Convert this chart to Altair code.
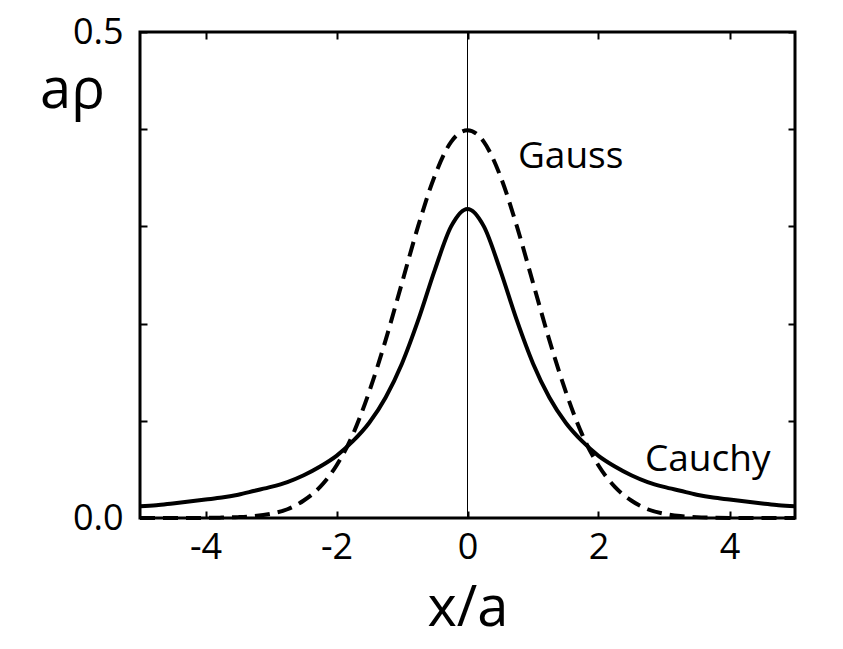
import altair as alt
import pandas as pd

# x/a sample positions
x_vals = [-5.0, -4.75, -4.5, -4.25, -4.0, -3.75, -3.5, -3.25, -3.0, -2.75, -2.5, -2.25,
          -2.0, -1.75, -1.5, -1.25, -1.0, -0.75, -0.5, -0.25, 0.0, 0.25, 0.5, 0.75,
          1.0, 1.25, 1.5, 1.75, 2.0, 2.25, 2.5, 2.75, 3.0, 3.25, 3.5, 3.75, 4.0,
          4.25, 4.5, 4.75, 5.0]
# Cauchy (solid)
cauchy_vals = [0.012, 0.013, 0.015, 0.017, 0.019, 0.021, 0.024, 0.028, 0.032, 0.037, 0.044, 0.053,
               0.064, 0.079, 0.098, 0.124, 0.159, 0.204, 0.255, 0.300, 0.318, 0.300, 0.255, 0.204,
               0.159, 0.124, 0.098, 0.079, 0.064, 0.053, 0.044, 0.037, 0.032, 0.028, 0.024, 0.021, 0.019,
               0.017, 0.015, 0.013, 0.012]
# Gauss (dashed)
gauss_vals = [0.0, 0.0, 0.0, 0.0, 0.0001, 0.0004, 0.0009, 0.002, 0.0044, 0.009, 0.018, 0.032,
              0.054, 0.086, 0.130, 0.183, 0.242, 0.301, 0.352, 0.387, 0.399, 0.387, 0.352, 0.301,
              0.242, 0.183, 0.130, 0.086, 0.054, 0.032, 0.018, 0.009, 0.0044, 0.002, 0.0009, 0.0004, 0.0001,
              0.0, 0.0, 0.0, 0.0]

x_ticks = [-4, -2, 0, 2, 4]
y_ticks = [0.0, 0.1, 0.2, 0.3, 0.4, 0.5]

label_text = ["Gauss", "Cauchy"]
label_x = [0.77, 2.71]
label_y = [0.371, 0.060]

zero_line_x = [0]

FONT = "Open Sans"

df_c = pd.DataFrame({"x": x_vals, "y": cauchy_vals})
df_g = pd.DataFrame({"x": x_vals, "y": gauss_vals})
df_lab = pd.DataFrame({"text": label_text, "x": label_x, "y": label_y})
df_zero = pd.DataFrame({"x": zero_line_x})

xscale = alt.Scale(domain=[-5, 5], nice=False, zero=False)
yscale = alt.Scale(domain=[0, 0.5], nice=False, zero=False)

x_bottom = alt.Axis(orient="bottom", values=x_ticks, offset=-7, tickSize=7, tickWidth=2,
                    tickColor="black", domain=False, grid=False,
                    labelExpr="toString(datum.value)", labelFont=FONT, labelFontSize=36,
                    labelColor="black", labelPadding=12,
                    title="x/a", titleFont=FONT, titleFontSize=56, titleFontWeight="normal",
                    titleColor="black", titleBaseline="alphabetic", titleY=114)
y_left = alt.Axis(orient="left", values=y_ticks, offset=-7, tickSize=7, tickWidth=2,
                  tickColor="black", domain=False, grid=False,
                  labelExpr="datum.value == 0 || datum.value == 0.5 ? format(datum.value, '.1f') : ''",
                  labelFont=FONT, labelFontSize=36, labelColor="black", labelPadding=17,
                  title="aρ", titleFont=FONT, titleFontSize=56, titleFontWeight="normal",
                  titleColor="black", titleAngle=0, titleAlign="center",
                  titleBaseline="alphabetic", titleX=-75, titleY=75)
x_top = alt.Axis(orient="top", values=x_ticks, offset=-7, tickSize=7, tickWidth=2,
                 tickColor="black", domain=False, grid=False, labels=False, title=None)
y_right = alt.Axis(orient="right", values=y_ticks, offset=-7, tickSize=7, tickWidth=2,
                   tickColor="black", domain=False, grid=False, labels=False, title=None)

cauchy = alt.Chart(df_c).mark_line(color="black", strokeWidth=4, interpolate="monotone").encode(
    x=alt.X("x:Q", scale=xscale, axis=x_bottom),
    y=alt.Y("y:Q", scale=yscale, axis=y_left),
)
gauss = alt.Chart(df_g).mark_line(color="black", strokeWidth=4, strokeDash=[15, 8],
                                  interpolate="monotone").encode(
    x=alt.X("x:Q", scale=xscale, axis=x_top),
    y=alt.Y("y:Q", scale=yscale, axis=y_right),
)
zero = alt.Chart(df_zero).mark_rule(color="black", strokeWidth=1).encode(
    x=alt.X("x:Q", scale=xscale, axis=None),
)
labels = alt.Chart(df_lab).mark_text(font=FONT, fontSize=37, align="left", baseline="middle",
                                     color="black").encode(
    x=alt.X("x:Q", scale=xscale, axis=None),
    y=alt.Y("y:Q", scale=yscale, axis=None),
    text="text:N",
)

chart = alt.layer(zero, cauchy, gauss, labels).resolve_axis(
    x="independent", y="independent"
).properties(
    width=655, height=486,
    autosize=alt.AutoSizeParams(type="none"),
    padding={"left": 132, "top": 24, "right": 40, "bottom": 125},
    background="white",
).configure_view(stroke="black", strokeWidth=3)

chart.save("out.html", embed_options={"renderer": "svg", "actions": False})
